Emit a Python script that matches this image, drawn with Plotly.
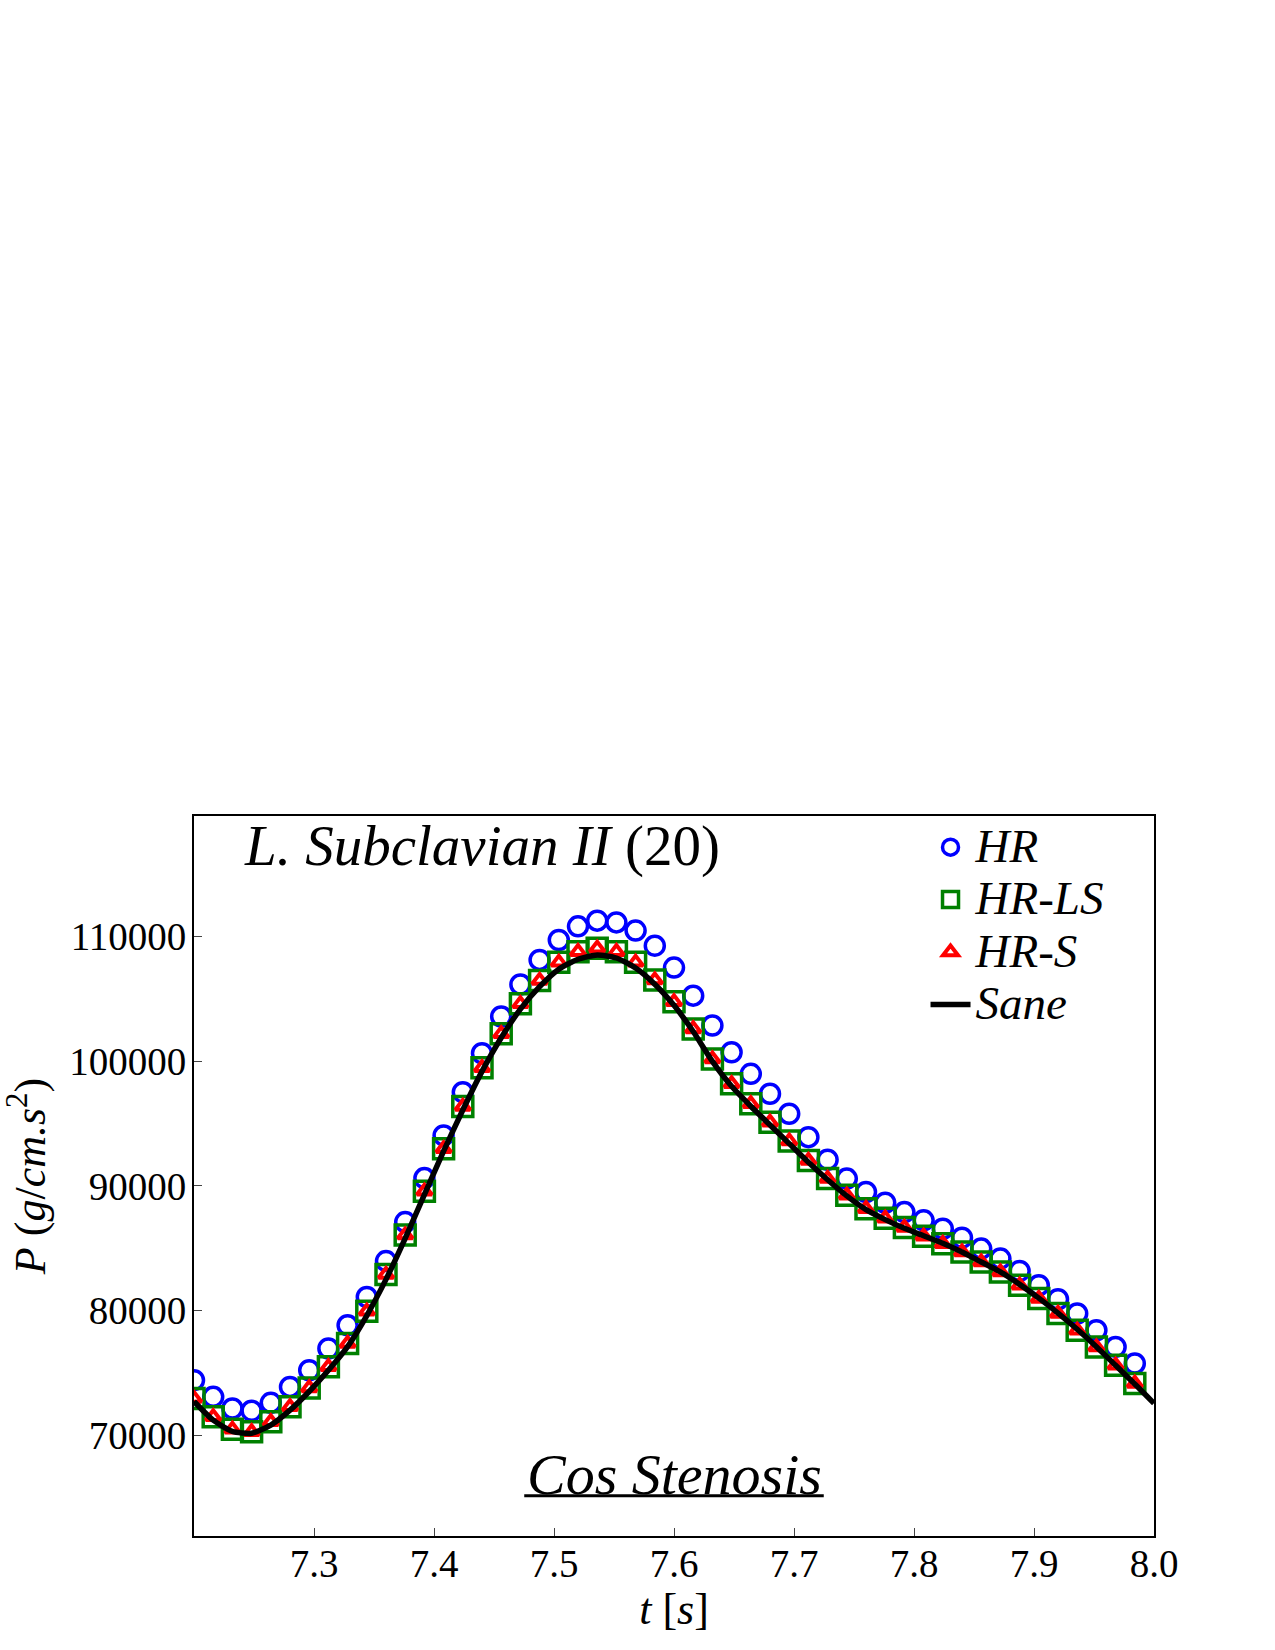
import plotly.graph_objects as go

# ---- data ----
t_markers = [7.200, 7.216, 7.232, 7.248, 7.264, 7.280, 7.296, 7.312, 7.328, 7.344,
             7.360, 7.376, 7.392, 7.408, 7.424, 7.440, 7.456, 7.472, 7.488, 7.504,
             7.520, 7.536, 7.552, 7.568, 7.584, 7.600, 7.616, 7.632, 7.648, 7.664,
             7.680, 7.696, 7.712, 7.728, 7.744, 7.760, 7.776, 7.792, 7.808, 7.824,
             7.840, 7.856, 7.872, 7.888, 7.904, 7.920, 7.936, 7.952, 7.968, 7.984]

hr = [74410, 73070, 72140, 71950, 72590, 73870, 75210, 76950, 78820, 81090,
      83970, 87100, 90630, 94060, 97530, 100660, 103600, 106170, 108150, 109750,
      110840, 111300, 111160, 110500, 109290, 107530, 105280, 102880, 100740, 99000,
      97400, 95800, 93920, 92110, 90590, 89510, 88650, 87900, 87240, 86570,
      85850, 84970, 84170, 83180, 82030, 80910, 79760, 78420, 77080, 75750]

hr_ls = [72940, 71470, 70460, 70260, 71070, 72270, 73790, 75480, 77350, 79940,
         82900, 86070, 89570, 92990, 96380, 99490, 102210, 104620, 106490, 107950,
         108810, 109080, 108810, 107950, 106530, 104780, 102610, 100200, 98200, 96600,
         95120, 93600, 92050, 90590, 89250, 88180, 87400, 86660, 85970, 85370,
         84700, 83900, 83100, 82030, 80960, 79760, 78420, 77080, 75610, 74150]

hr_s = [72940, 71470, 70460, 70260, 71070, 72270, 73790, 75480, 77350, 79940,
        82900, 86070, 89570, 92990, 96380, 99490, 102210, 104620, 106490, 107950,
        108810, 109080, 108810, 107950, 106530, 104780, 102610, 100200, 98200, 96600,
        95120, 93600, 92050, 90590, 89250, 88180, 87400, 86660, 85970, 85370,
        84700, 83900, 83100, 82030, 80960, 79760, 78420, 77080, 75610, 74150]

t_sane = [7.200, 7.216, 7.232, 7.248, 7.264, 7.280, 7.296, 7.312, 7.328, 7.344,
          7.360, 7.376, 7.392, 7.408, 7.424, 7.440, 7.456, 7.472, 7.488, 7.504,
          7.520, 7.536, 7.552, 7.568, 7.584, 7.600, 7.616, 7.632, 7.648, 7.664,
          7.680, 7.696, 7.712, 7.728, 7.744, 7.760, 7.776, 7.792, 7.808, 7.824,
          7.840, 7.856, 7.872, 7.888, 7.904, 7.920, 7.936, 7.952, 7.968, 7.984, 8.000]
sane = [72700, 71200, 70300, 70150, 70800, 72000, 73500, 75200, 77100, 79600,
        82500, 85800, 89300, 92800, 96100, 99200, 101900, 104200, 106000, 107400,
        108200, 108550, 108300, 107500, 106200, 104500, 102400, 100000, 98000, 96400,
        94900, 93400, 91900, 90500, 89200, 88100, 87300, 86600, 86000, 85400,
        84700, 83900, 83100, 82100, 81000, 79800, 78500, 77100, 75600, 74100, 72550]

x_ticks = [7.3, 7.4, 7.5, 7.6, 7.7, 7.8, 7.9, 8.0]
x_ticklabels = ["7.3", "7.4", "7.5", "7.6", "7.7", "7.8", "7.9", "8.0"]
y_ticks = [70000, 80000, 90000, 100000, 110000]
y_ticklabels = ["70000", "80000", "90000", "100000", "110000"]

FONT = "Liberation Serif"
LEG = '<span style="font-size:47px">%s</span>'

fig = go.Figure()
fig.add_trace(go.Scatter(
    x=t_markers, y=hr, mode="markers", name=LEG % "<i>HR</i>",
    marker=dict(symbol="circle-open", size=19, color="#0000ff", line=dict(width=3.5, color="#0000ff"))))
fig.add_trace(go.Scatter(
    x=t_markers, y=hr_ls, mode="markers", name=LEG % "<i>HR-LS</i>",
    marker=dict(symbol="square-open", size=20, color="#008000", line=dict(width=3.5, color="#008000"))))
fig.add_trace(go.Scatter(
    x=t_markers, y=hr_s, mode="markers", name=LEG % "<i>HR-S</i>",
    marker=dict(symbol="triangle-up-open", size=13, color="#ff0000", line=dict(width=4, color="#ff0000"))))
fig.add_trace(go.Scatter(
    x=t_sane, y=sane, mode="lines", name=LEG % "<i>Sane</i>",
    line=dict(color="black", width=5.5, shape="spline", smoothing=0.6)))

fig.update_layout(
    width=1275, height=1650,
    margin=dict(l=194, r=121, t=816, b=114),
    paper_bgcolor="white", plot_bgcolor="white",
    font=dict(family=FONT, color="black", size=39),
    showlegend=True,
    legend=dict(x=0.762, y=1.0, xanchor="left", yanchor="top",
                bgcolor="rgba(0,0,0,0)", borderwidth=0,
                font=dict(family=FONT, size=38, color="black"),
                itemwidth=40, tracegroupgap=0),
    xaxis=dict(range=[7.2, 8.0], tickvals=x_ticks, ticktext=x_ticklabels,
               ticks="inside", ticklen=8, tickwidth=1, tickcolor="#444",
               showline=True, linecolor="black", linewidth=2, mirror=True,
               showgrid=False, zeroline=False, ticklabelstandoff=-8,
               tickfont=dict(family=FONT, size=39),
               title=dict(text="<i>t</i> [<i>s</i>]", font=dict(family=FONT, size=44), standoff=4)),
    yaxis=dict(range=[61900, 119700], tickvals=y_ticks, ticktext=y_ticklabels,
               ticks="inside", ticklen=8, tickwidth=1, tickcolor="#444",
               showline=True, linecolor="black", linewidth=2, mirror=True,
               showgrid=False, zeroline=False, ticklabelstandoff=-2,
               tickfont=dict(family=FONT, size=39),
               title=dict(text="<i>P</i> (<i>g</i>/<i>cm.s</i><sup>2</sup>)",
                          font=dict(family=FONT, size=44), standoff=26)),
)

fig.add_annotation(xref="paper", yref="paper", x=0.05, y=0.958, xanchor="left", yanchor="middle",
                   text="<i>L. Subclavian II</i> (20)", showarrow=False,
                   font=dict(family=FONT, size=57, color="black"))
fig.add_annotation(xref="paper", yref="paper", x=0.5, y=0.086, xanchor="center", yanchor="middle",
                   text="<i>Cos Stenosis</i>", showarrow=False,
                   font=dict(family=FONT, size=58, color="black"))
fig.add_shape(type="line", xref="paper", yref="paper", x0=0.344, x1=0.656, y0=0.056, y1=0.056,
              line=dict(color="black", width=3))

fig.write_html("out.html")
